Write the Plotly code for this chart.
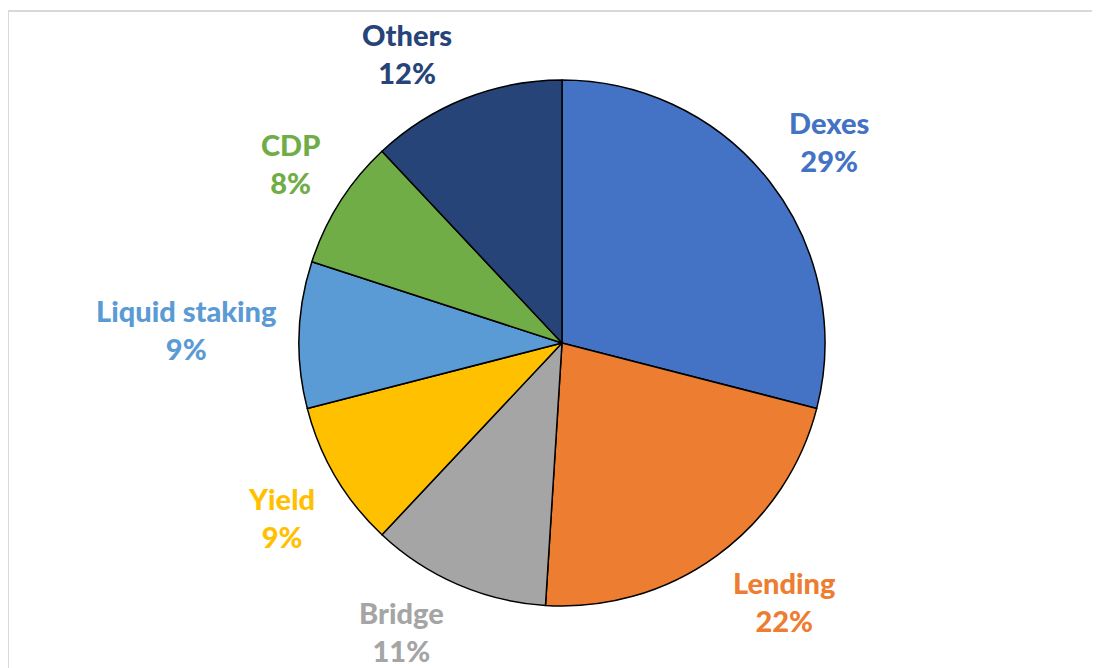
import math
import plotly.graph_objects as go

labels = ["Dexes", "Lending", "Bridge", "Yield", "Liquid staking", "CDP", "Others"]
values = [29, 22, 11, 9, 9, 8, 12]
colors = ["#4472C4", "#ED7D31", "#A5A5A5", "#FFC000", "#5B9BD5", "#70AD47", "#264478"]

# page body has an 8px margin, so the figure is sized to fit the window
W, H = 1092, 660
CX, CY, R = 554, 335, 263  # pie centre (px from figure top-left) and radius
CYB = H - CY

fig = go.Figure(go.Pie(
    labels=labels, values=values, sort=False, direction="clockwise", rotation=0,
    marker=dict(colors=colors, line=dict(color="black", width=1.5)),
    textinfo="none", hoverinfo="label+percent", showlegend=False,
    domain=dict(x=[(CX - R) / W, (CX + R) / W], y=[(CYB - R) / H, (CYB + R) / H]),
))

total = sum(values)
cum = 0
annotations = []
for lab, v, col in zip(labels, values, colors):
    mid = (cum + v / 2) / total * 2 * math.pi
    cum += v
    s, c = math.sin(mid), math.cos(mid)
    rr = R * 1.06
    px = CX + rr * s
    py = CYB + rr * c
    xa = "center" if abs(s) < 0.3 else ("left" if s > 0 else "right")
    ya = "middle" if abs(c) < 0.3 else ("bottom" if c > 0 else "top")
    xs = 0 if xa == "center" else (5 if xa == "left" else -5)
    ys = {"middle": 5, "bottom": -8, "top": 6}[ya]
    annotations.append(dict(
        x=px / W, y=py / H, xref="paper", yref="paper", xanchor=xa, yanchor=ya,
        xshift=xs, yshift=ys,
        text=f"{lab}<br>{round(v / total * 100)}%", showarrow=False, align="center",
        font=dict(family="Lato", size=29, color=col, weight=900),
    ))

fig.update_layout(
    width=W, height=H, margin=dict(l=0, r=0, t=0, b=0),
    paper_bgcolor="white", plot_bgcolor="white",
    annotations=annotations,
    shapes=[
        dict(type="line", xref="paper", yref="paper", x0=0, x1=1, y0=(H - 3) / H, y1=(H - 3) / H,
             line=dict(color="#D9D9D9", width=2)),
        dict(type="line", xref="paper", yref="paper", x0=0, x1=0, y0=0, y1=(H - 3) / H,
             line=dict(color="#D9D9D9", width=2)),
    ],
)

fig.write_html("out.html")
